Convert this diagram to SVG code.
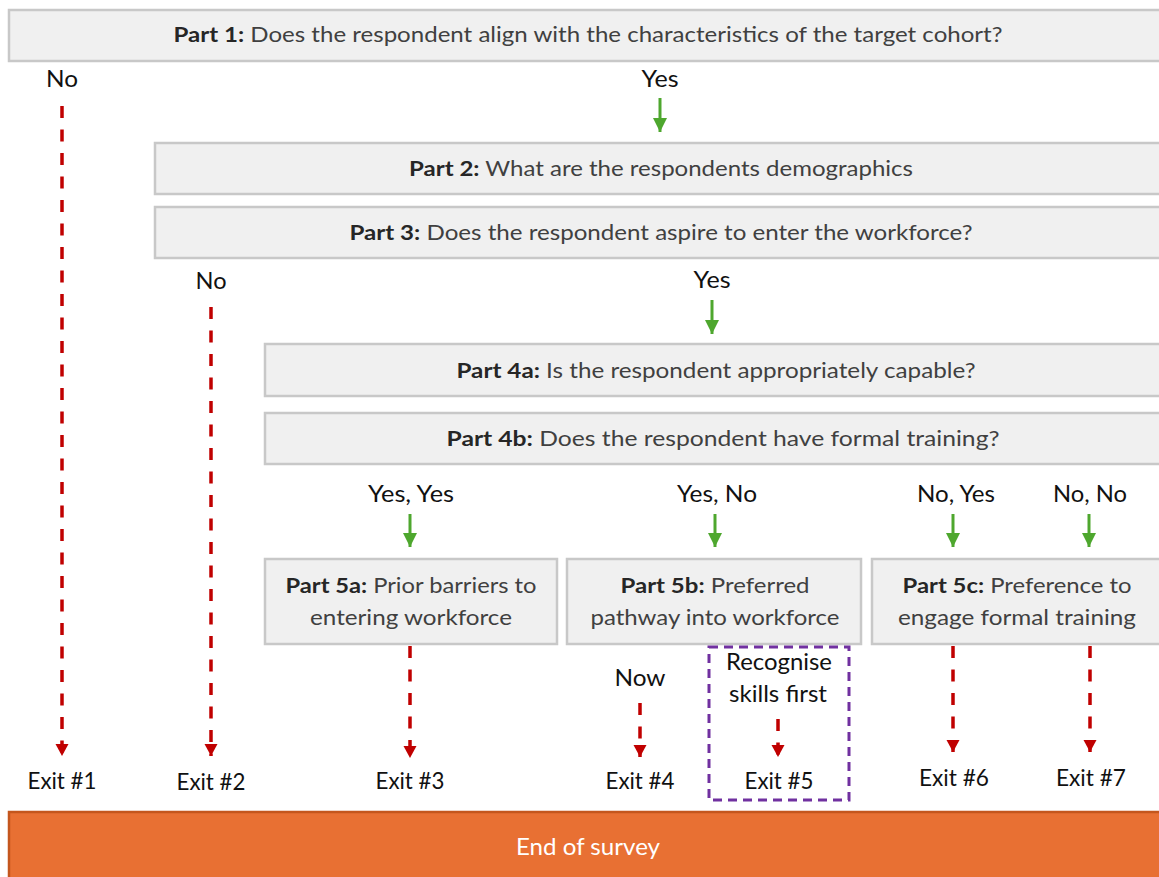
<svg xmlns="http://www.w3.org/2000/svg" width="1159" height="877" viewBox="0 0 1159 877">
<defs>
<marker id="ag" markerUnits="userSpaceOnUse" markerWidth="16" markerHeight="14" refX="14" refY="7" orient="auto">
<path d="M0,0 L14,7 L0,14 Z" fill="#4ea72e"/>
</marker>
<marker id="ar" markerUnits="userSpaceOnUse" markerWidth="14" markerHeight="14" refX="12" refY="6.5" orient="auto">
<path d="M0,0 L12,6.5 L0,13 Z" fill="#c00000"/>
</marker>
</defs>
<style>
.box{fill:#f0f0f0;stroke:#c8c8c8;stroke-width:2.5}
.t{font-family:Lato,"Open Sans","Liberation Sans",sans-serif;font-size:21px;fill:#404040;text-anchor:middle}
.b{font-weight:bold;fill:#262626}
.lab{font-family:Lato,"Open Sans","Liberation Sans",sans-serif;font-size:23px;fill:#111;text-anchor:middle}
.g{stroke:#4ea72e;stroke-width:3;fill:none;marker-end:url(#ag)}
.r{stroke:#c00000;stroke-width:3.5;fill:none;stroke-dasharray:12 11.5;marker-end:url(#ar)}
</style>
<rect width="1159" height="877" fill="#ffffff"/>

<g id="part1">
<rect class="box" x="9" y="10" width="1160" height="51"/>
<text class="t" x="588" y="42" textLength="829" lengthAdjust="spacingAndGlyphs"><tspan class="b">Part 1:</tspan> Does the respondent align with the characteristics of the target cohort?</text>
</g>
<g id="part2">
<rect class="box" x="155" y="143" width="1014" height="51"/>
<text class="t" x="661" y="176" textLength="504" lengthAdjust="spacingAndGlyphs"><tspan class="b">Part 2:</tspan> What are the respondents demographics</text>
</g>
<g id="part3">
<rect class="box" x="155" y="207" width="1014" height="51"/>
<text class="t" x="661" y="240" textLength="623" lengthAdjust="spacingAndGlyphs"><tspan class="b">Part 3:</tspan> Does the respondent aspire to enter the workforce?</text>
</g>
<g id="part4a">
<rect class="box" x="265" y="344" width="904" height="52"/>
<text class="t" x="716" y="378" textLength="519" lengthAdjust="spacingAndGlyphs"><tspan class="b">Part 4a:</tspan> Is the respondent appropriately capable?</text>
</g>
<g id="part4b">
<rect class="box" x="265" y="413" width="904" height="51"/>
<text class="t" x="723" y="446" textLength="553" lengthAdjust="spacingAndGlyphs"><tspan class="b">Part 4b:</tspan> Does the respondent have formal training?</text>
</g>
<g id="part5a">
<rect class="box" x="265" y="559" width="292" height="85"/>
<text class="t" x="411" y="593" textLength="251" lengthAdjust="spacingAndGlyphs"><tspan class="b">Part 5a:</tspan> Prior barriers to</text>
<text class="t" x="411" y="625" textLength="202" lengthAdjust="spacingAndGlyphs">entering workforce</text>
</g>
<g id="part5b">
<rect class="box" x="567" y="559" width="294" height="85"/>
<text class="t" x="715" y="593" textLength="189" lengthAdjust="spacingAndGlyphs"><tspan class="b">Part 5b:</tspan> Preferred</text>
<text class="t" x="715" y="625" textLength="249" lengthAdjust="spacingAndGlyphs">pathway into workforce</text>
</g>
<g id="part5c">
<rect class="box" x="872" y="559" width="297" height="85"/>
<text class="t" x="1017" y="593" textLength="229" lengthAdjust="spacingAndGlyphs"><tspan class="b">Part 5c:</tspan> Preference to</text>
<text class="t" x="1017" y="625" textLength="238" lengthAdjust="spacingAndGlyphs">engage formal training</text>
</g>
<g id="recognise">
<rect x="709" y="647" width="140" height="153" fill="none" stroke="#7030a0" stroke-width="3" stroke-dasharray="9 6"/>
</g>
<g id="end">
<rect x="9" y="812" width="1160" height="70" fill="#e87033" stroke="#c4561d" stroke-width="2.5"/>
<text x="588" y="855" font-family="Lato,'Open Sans','Liberation Sans',sans-serif" font-size="23" fill="#ffffff" text-anchor="middle" textLength="144" lengthAdjust="spacingAndGlyphs">End of survey</text>
</g>

<g id="labels">
<text class="lab" x="62" y="87" textLength="32" lengthAdjust="spacingAndGlyphs">No</text>
<text class="lab" x="660" y="87" textLength="37" lengthAdjust="spacingAndGlyphs">Yes</text>
<text class="lab" x="211" y="289" textLength="31" lengthAdjust="spacingAndGlyphs">No</text>
<text class="lab" x="712" y="288" textLength="37" lengthAdjust="spacingAndGlyphs">Yes</text>
<text class="lab" x="411" y="502" textLength="86" lengthAdjust="spacingAndGlyphs">Yes, Yes</text>
<text class="lab" x="717" y="502" textLength="80" lengthAdjust="spacingAndGlyphs">Yes, No</text>
<text class="lab" x="956" y="502" textLength="78" lengthAdjust="spacingAndGlyphs">No, Yes</text>
<text class="lab" x="1090" y="502" textLength="74" lengthAdjust="spacingAndGlyphs">No, No</text>
<text class="lab" x="640" y="686" textLength="51" lengthAdjust="spacingAndGlyphs">Now</text>
<text class="lab" x="779" y="670" textLength="106" lengthAdjust="spacingAndGlyphs">Recognise</text>
<text class="lab" x="778" y="702" textLength="98" lengthAdjust="spacingAndGlyphs">skills first</text>
<text class="lab" x="62" y="789" textLength="69" lengthAdjust="spacingAndGlyphs">Exit #1</text>
<text class="lab" x="211" y="790" textLength="69" lengthAdjust="spacingAndGlyphs">Exit #2</text>
<text class="lab" x="410" y="789" textLength="69" lengthAdjust="spacingAndGlyphs">Exit #3</text>
<text class="lab" x="640" y="789" textLength="69" lengthAdjust="spacingAndGlyphs">Exit #4</text>
<text class="lab" x="779" y="789" textLength="69" lengthAdjust="spacingAndGlyphs">Exit #5</text>
<text class="lab" x="954" y="786" textLength="70" lengthAdjust="spacingAndGlyphs">Exit #6</text>
<text class="lab" x="1091" y="786" textLength="70" lengthAdjust="spacingAndGlyphs">Exit #7</text>
</g>

<g id="connectors">
<line class="g" x1="660" y1="98" x2="660" y2="132"/>
<line class="g" x1="712" y1="300" x2="712" y2="334"/>
<line class="g" x1="410" y1="514" x2="410" y2="547"/>
<line class="g" x1="715" y1="514" x2="715" y2="547"/>
<line class="g" x1="953" y1="514" x2="953" y2="547"/>
<line class="g" x1="1089" y1="514" x2="1089" y2="547"/>
<line class="r" x1="62" y1="106" x2="62" y2="756"/>
<line class="r" x1="211" y1="307" x2="211" y2="756"/>
<line class="r" x1="410" y1="646" x2="410" y2="758"/>
<line class="r" x1="640" y1="703" x2="640" y2="757"/>
<line class="r" x1="778" y1="719" x2="778" y2="757"/>
<line class="r" x1="953" y1="646" x2="953" y2="752"/>
<line class="r" x1="1090" y1="646" x2="1090" y2="752"/>
</g>
</svg>
